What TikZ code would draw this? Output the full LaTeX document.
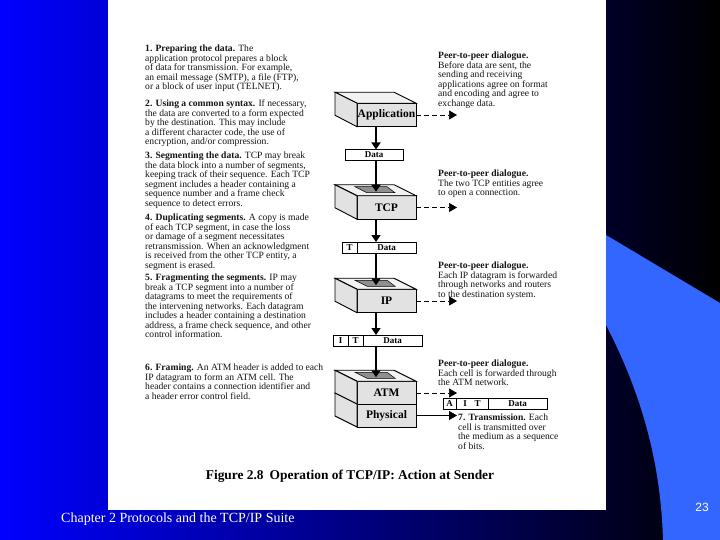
\documentclass[tikz,border=0pt]{standalone}
\usepackage{fontspec}
\setmainfont{Liberation Serif}
\newfontfamily\footsans{Liberation Sans}
\usetikzlibrary{arrows.meta,positioning,calc}
\definecolor{slideBlue}{HTML}{0000FF}
\definecolor{slideSwoosh}{HTML}{3366FF}
\definecolor{faceGray}{HTML}{E2E2E2}
\definecolor{slotGray}{HTML}{8F8F8F}
\definecolor{inkGray}{HTML}{141414}
\tikzset{
  txt/.style={anchor=north west,inner sep=0pt,align=left,text=inkGray,yshift=-0.8pt,font=\fontsize{9.6}{9.5}\selectfont},
  front/.style={draw=black,line width=0.9pt,fill=faceGray,minimum width=59pt,minimum height=23.5pt,
                inner sep=0pt,outer sep=0pt,font=\fontsize{11.5}{13}\selectfont\bfseries},
  cell/.style={draw=black,line width=0.6pt,minimum height=11pt,inner sep=0pt,outer sep=0pt,
               font=\fontsize{9}{10}\selectfont\bfseries},
  down/.style={line width=1.6pt,-{Triangle[length=7pt,width=9pt]}},
  peer/.style={line width=0.7pt,dash pattern=on 5pt off 3pt,-{Triangle[length=8pt,width=9pt]}},
  wire/.style={line width=0.8pt,-{Triangle[length=8pt,width=9pt]}},
}
\begin{document}
\begin{tikzpicture}[x=1pt,y=-1pt]
\useasboundingbox (0,0) rectangle (720,540);
% slide background
\shade[left color=slideBlue,middle color=slideBlue!82!black,right color=black] (0,0) rectangle (720,540);
\fill[slideSwoosh] (606,235) -- (720,303) -- (720,540) -- (663,540)
  .. controls (661,470) and (645,400) .. (606,325) -- cycle;
\fill[white] (108,0) rectangle (606,510);
% protocol boxes
\node[front] (boxApp) at (386.5,115) {Application};
\node[front] (boxTcp) at (386.5,207.5) {TCP};
\node[front] (boxIp) at (386.5,301) {IP};
\node[front] (boxAtm) at (386.5,393) {ATM};
\node[front,minimum height=23pt] (boxPhy) at (386.5,415.5) {Physical};
\coordinate (stackAxis) at (376,0);
\foreach \nm in {boxApp,boxTcp,boxIp,boxAtm}{
  \draw[line width=0.9pt,fill=faceGray!45] (\nm.north west) -- ++(-22,-11) -- ++(59,0) -- (\nm.north east) -- cycle;
}
\foreach \nm in {boxApp,boxTcp,boxIp,boxAtm,boxPhy}{
  \draw[line width=0.9pt,fill=faceGray] (\nm.north west) -- ++(-22,-11) -- ++(0,23) -- (\nm.south west) -- cycle;
}
\foreach \nm in {boxTcp,boxIp,boxAtm}{
  \draw[line width=0.5pt,fill=slotGray] ($(\nm.north west)+(-2,-9)$) -- ++(32,0) -- ++(8,6) -- ++(-28,0) -- cycle;
  \coordinate (\nm slot) at ($(\nm.north)+(-10.5,-4)$);
}
% data units
\node[cell,minimum width=58pt] (unitData) at (374,155) {Data};
\node[cell,minimum width=15pt] (tcpT) at (349.5,247.5) {T};
\node[cell,minimum width=59pt,right=0pt of tcpT] (tcpData) {Data};
\node[cell,minimum width=15pt] (ipI) at (340.5,340.5) {I};
\node[cell,minimum width=15pt,right=0pt of ipI] (ipT) {T};
\node[cell,minimum width=59pt,right=0pt of ipT] (ipData) {Data};
\node[cell,minimum width=13pt] (atmA) at (449.5,403.5) {A};
\node[cell,minimum width=32pt,right=0pt of atmA] (atmIT) {I\hspace{8pt}T};
\node[cell,minimum width=59pt,right=0pt of atmIT] (atmData) {Data};
% flow down the stack
\draw[down] (boxApp.south -| stackAxis) -- (unitData.north -| stackAxis);
\draw[down] (unitData.south -| stackAxis) -- (boxTcpslot -| stackAxis);
\draw[down] (boxTcp.south -| stackAxis) -- (tcpData.north -| stackAxis);
\draw[down] (tcpData.south -| stackAxis) -- (boxIpslot -| stackAxis);
\draw[down] (boxIp.south -| stackAxis) -- (ipData.north -| stackAxis);
\draw[down] (ipData.south -| stackAxis) -- (boxAtmslot -| stackAxis);
% peer arrows
\coordinate (endApp) at (457,115);
\coordinate (endTcp) at (457,207.5);
\coordinate (endIp) at (457,301);
\coordinate (endAtm) at (457,393);
\coordinate (endPhy) at (457,415.5);
\draw[peer] (boxApp.east) -- (endApp);
\draw[peer] (boxTcp.east) -- (endTcp);
\draw[peer] (boxIp.east) -- (endIp);
\draw[peer] (boxAtm.east) -- (endAtm);
\draw[wire] (boxPhy.east) -- (endPhy);
% left column
\node[txt] (stepOne) at (145,44) {\textbf{1. Preparing the data.} The\\
application protocol prepares a block\\
of data for transmission. For example,\\
an email message (SMTP), a file (FTP),\\
or a block of user input (TELNET).};
\node[txt] (stepTwo) at (145,99) {\textbf{2. Using a common syntax.} If necessary,\\
the data are converted to a form expected\\
by the destination. This may include\\
a different character code, the use of\\
encryption, and/or compression.};
\node[txt] (stepThree) at (145,151) {\textbf{3. Segmenting the data.} TCP may break\\
the data block into a number of segments,\\
keeping track of their sequence. Each TCP\\
segment includes a header containing a\\
sequence number and a frame check\\
sequence to detect errors.};
\node[txt] (stepFour) at (145,213) {\textbf{4. Duplicating segments.} A copy is made\\
of each TCP segment, in case the loss\\
or damage of a segment necessitates\\
retransmission. When an acknowledgment\\
is received from the other TCP entity, a\\
segment is erased.};
\node[txt] (stepFive) at (145,273) {\textbf{5. Fragmenting the segments.} IP may\\
break a TCP segment into a number of\\
datagrams to meet the requirements of\\
the intervening networks. Each datagram\\
includes a header containing a destination\\
address, a frame check sequence, and other\\
control information.};
\node[txt] (stepSix) at (145,363) {\textbf{6. Framing.} An ATM header is added to each\\
IP datagram to form an ATM cell. The\\
header contains a connection identifier and\\
a header error control field.};
% right column
\node[txt] (peerApp) at (438,51) {\textbf{Peer-to-peer dialogue.}\\
Before data are sent, the\\
sending and receiving\\
applications agree on format\\
and encoding and agree to\\
exchange data.};
\node[txt] (peerTcp) at (438,169) {\textbf{Peer-to-peer dialogue.}\\
The two TCP entities agree\\
to open a connection.};
\node[txt] (peerIp) at (438,261) {\textbf{Peer-to-peer dialogue.}\\
Each IP datagram is forwarded\\
through networks and routers\\
to the destination system.};
\node[txt] (peerAtm) at (438,359) {\textbf{Peer-to-peer dialogue.}\\
Each cell is forwarded through\\
the ATM network.};
\node[txt] (stepSeven) at (458,413) {\textbf{7. Transmission.} Each\\
cell is transmitted over\\
the medium as a sequence\\
of bits.};
% caption and footer
\node[inner sep=0pt,font=\fontsize{13.4}{15}\selectfont\bfseries] (figCap) at (350,476) {Figure 2.8\hspace{6pt}Operation of TCP/IP: Action at Sender};
\node[anchor=west,inner sep=0pt,text=white,font=\fontsize{14}{16}\selectfont] (chapLine) at (61,519) {Chapter 2 Protocols and the TCP/IP Suite};
\node[inner sep=0pt,text=white,font=\footsans\fontsize{12}{14}\selectfont] (pageNum) at (702,507) {23};
\end{tikzpicture}
\end{document}
